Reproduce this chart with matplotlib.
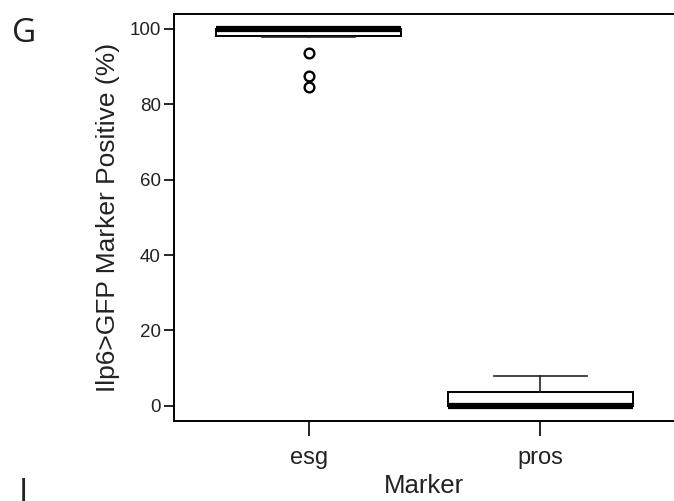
import matplotlib
matplotlib.use("Agg")
import matplotlib.pyplot as plt

categories = ["esg", "pros"]
q1 = [98.2, 0.0]
med = [100.0, 0.0]
q3 = [100.0, 3.7]
whislo = [97.7, 0.0]
whishi = [100.0, 8.0]
fliers = [[93.5, 87.4, 84.6], []]
yticks = [0, 20, 40, 60, 80, 100]

plt.rcParams['font.family'] = ['Liberation Sans', 'DejaVu Sans']

W, H = 674, 501
fig = plt.figure(figsize=(W / 100, H / 100), dpi=100)
ax = fig.add_axes([174 / W, 1 - 421 / H, (W - 174) / W, (421 - 14) / H])

stats = []
for i, c in enumerate(categories):
    stats.append(dict(label=c, q1=q1[i], med=med[i], q3=q3[i],
                      whislo=whislo[i], whishi=whishi[i], fliers=fliers[i]))

ax.bxp(stats, positions=[1, 2], widths=0.8, patch_artist=True,
       boxprops=dict(facecolor='white', edgecolor='black', linewidth=1.4),
       medianprops=dict(color='black', linewidth=4.5, solid_capstyle='butt'),
       whiskerprops=dict(color='#222222', linewidth=1.2),
       capprops=dict(color='#222222', linewidth=1.2),
       capwidths=0.4,
       flierprops=dict(marker='o', markerfacecolor='none', markeredgecolor='black',
                       markersize=7, markeredgewidth=1.7, linestyle='none'))

ax.set_xlim(0.418, 2.578)
ax.set_ylim(-4, 103.9)
ax.set_yticks(yticks)
ax.set_xticks([1, 2])
ax.set_xticklabels(categories)

for s in ['left', 'bottom', 'top']:
    ax.spines[s].set_linewidth(1.4)
ax.spines['right'].set_visible(False)
ax.tick_params(axis='y', direction='out', length=7.5, width=1.2, labelsize=13.5, pad=2, colors='black', labelcolor='#222222')
ax.tick_params(axis='x', direction='out', length=11, width=1.2, labelsize=17, pad=8, colors='black', labelcolor='#222222')

ax.set_xlabel("Marker", fontsize=18.5, color='#222222', labelpad=3)
ax.set_ylabel("Ilp6>GFP Marker Positive (%)", fontsize=19, color='#222222', labelpad=7)

fig.text(12 / W, 1 - 17 / H, "G", fontsize=24, family=['Open Sans', 'DejaVu Sans'],
         va='top', ha='left', color='#222222')
fig.text(19 / W, 1 - 477 / H, "I", fontsize=24, family=['Open Sans', 'DejaVu Sans'],
         va='top', ha='left', color='#222222')

fig.savefig("out.png", dpi=100)
